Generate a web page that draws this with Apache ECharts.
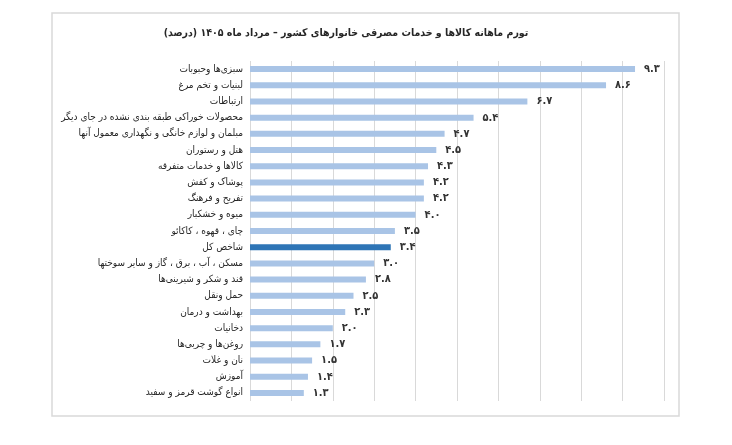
<!DOCTYPE html>
<html dir="rtl">
<head>
<meta charset="utf-8">
<script src="https://cdn.jsdelivr.net/npm/echarts@6/dist/echarts.min.js"></script>
<style>
  html, body { margin: 0; padding: 0; background: #fff; }
  #chart { width: 732px; height: 445px; direction: rtl; }
</style>
</head>
<body>
<div id="chart"></div>
<script>
const titleText = 'تورم ماهانه کالاها و خدمات مصرفی خانوارهای کشور – مرداد ماه ۱۴۰۵ (درصد)';

const categories = [
  'سبزی‌ها وحبوبات',
  'لبنیات و تخم مرغ',
  'ارتباطات',
  'محصولات خوراکی طبقه بندی نشده در جای دیگر',
  'مبلمان و لوازم خانگی و نگهداری معمول آنها',
  'هتل و رستوران',
  'کالاها و خدمات متفرقه',
  'پوشاک و کفش',
  'تفریح و فرهنگ',
  'میوه و خشکبار',
  'چای ، قهوه ، کاکائو',
  'شاخص کل',
  'مسکن ، آب ، برق ، گاز و سایر سوختها',
  'قند و شکر و شیرینی‌ها',
  'حمل ونقل',
  'بهداشت و درمان',
  'دخانیات',
  'روغن‌ها و چربی‌ها',
  'نان و غلات',
  'آموزش',
  'انواع گوشت قرمز و سفید'
];

const values = [9.3, 8.6, 6.7, 5.4, 4.7, 4.5, 4.3, 4.2, 4.2, 4.0, 3.5, 3.4, 3.0, 2.8, 2.5, 2.3, 2.0, 1.7, 1.5, 1.4, 1.3];

const highlightName = 'شاخص کل';

const FONT = '"DejaVu Sans Condensed", "DejaVu Sans", sans-serif';
const persianDigits = '۰۱۲۳۴۵۶۷۸۹';

function toPersian(num) {
  return num.toFixed(1).replace(/\d/g, (d) => persianDigits[Number(d)]);
}

const chart = echarts.init(document.getElementById('chart'), null, { renderer: 'canvas' });

chart.setOption({
  animation: false,
  graphic: [
    {
      type: 'rect',
      shape: { x: 52, y: 13, width: 627, height: 403 },
      style: { fill: 'none', stroke: '#d9d9d9', lineWidth: 1.5 },
      silent: true
    },
    {
      type: 'text',
      x: 346,
      y: 33,
      style: {
        text: titleText,
        textAlign: 'center',
        textVerticalAlign: 'middle',
        font: 'bold 10.5px ' + FONT,
        fill: '#262626'
      }
    }
  ],
  grid: { left: 250, right: 68, top: 61, bottom: 44, containLabel: false },
  xAxis: {
    type: 'value',
    min: 0,
    max: 10,
    interval: 1,
    axisLabel: { show: false },
    axisTick: { show: false },
    axisLine: { show: false },
    splitLine: { show: true, lineStyle: { color: '#d9d9d9', width: 1 } }
  },
  yAxis: {
    type: 'category',
    inverse: true,
    data: categories,
    axisTick: { show: false },
    axisLine: { show: false },
    axisLabel: {
      margin: 7,
      fontFamily: FONT,
      fontSize: 10,
      color: '#262626'
    }
  },
  series: [
    {
      type: 'bar',
      barWidth: 6,
      data: values.map((v, i) => ({
        value: v,
        itemStyle: { color: categories[i] === highlightName ? '#2e75b6' : '#a9c4e6' }
      })),
      label: {
        show: true,
        position: 'right',
        distance: 9,
        fontFamily: FONT,
        fontSize: 11,
        fontWeight: 'bold',
        color: '#333333',
        formatter: (p) => toPersian(p.value)
      }
    }
  ]
});
</script>
</body>
</html>
